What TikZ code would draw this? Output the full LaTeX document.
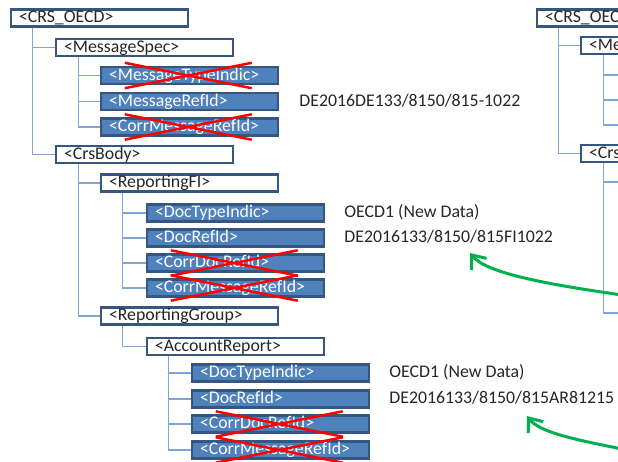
\documentclass[tikz,border=0pt]{standalone}
\usepackage{fontspec}
\setmainfont{Carlito}
\usetikzlibrary{arrows.meta,backgrounds}
\definecolor{bord}{HTML}{34567F}
\definecolor{bfill}{HTML}{4F81BD}
\definecolor{treec}{HTML}{7EA5D6}
\definecolor{grn}{HTML}{00B050}
\definecolor{txt}{HTML}{262626}
\newcommand\xoutbox[1]{%
  \draw[xline] ([xshift=25pt,yshift=3pt]#1.north west) -- ([xshift=152pt,yshift=-3pt]#1.south west);
  \draw[xline] ([xshift=25pt,yshift=-3pt]#1.south west) -- ([xshift=152pt,yshift=3pt]#1.north west);}
\begin{document}
\begin{tikzpicture}[x=1pt,y=-1pt,
  every node/.style={font=\fontsize{17.8pt}{20pt}\selectfont},
  boxbase/.style={draw=bord, line width=2.4pt, minimum width=177pt, minimum height=17pt,
    text width=161pt, inner xsep=8pt, inner ysep=0pt, text height=12.5pt, text depth=3.5pt, align=left},
  wbox/.style={boxbase, fill=white, text=txt},
  bbox/.style={boxbase, fill=bfill, text=white},
  tree/.style={draw=treec, line width=1.3pt},
  xline/.style={draw=red, line width=2.5pt},
  val/.style={anchor=base west, text=txt, inner sep=0pt},
  garrow/.style={draw=grn, line width=3pt, -{Straight Barb[length=12pt,width=19pt]}}]
\useasboundingbox (0,0) rectangle (618,461);
\clip (0,0) rectangle (618,461);

% left tree boxes
\node[wbox] (crs)   at (99.5,18)   {<CRS\_OECD>};
\node[wbox] (mspec) at (144.5,47.5) {<MessageSpec>};
\node[bbox] (mti)   at (189.5,75.5) {<MessageTypeIndic>};
\node[bbox] (mri)   at (189.5,101.5) {<MessageRefId>};
\node[bbox] (cmri)  at (189.5,127)  {<CorrMessageRefId>};
\node[wbox] (body)  at (144.5,154.5) {<CrsBody>};
\node[wbox] (rfi)   at (189.5,183)  {<ReportingFI>};
\node[bbox] (dti)   at (235.5,213)  {<DocTypeIndic>};
\node[bbox] (dri)   at (235.5,238)  {<DocRefId>};
\node[bbox] (cdri)  at (235.5,263)  {<CorrDocRefId>};
\node[bbox] (cmrib) at (235.5,288)  {<CorrMessageRefId>};
\node[wbox] (rg)    at (189.5,316)  {<ReportingGroup>};
\node[wbox] (ar)    at (235.5,346.5) {<AccountReport>};
\node[bbox] (dtic)  at (280.5,373)  {<DocTypeIndic>};
\node[bbox] (dric)  at (280.5,399)  {<DocRefId>};
\node[bbox] (cdric) at (280.5,424)  {<CorrDocRefId>};
\node[bbox] (cmric) at (280.5,450)  {<CorrMessageRefId>};

% right partial tree (cut off at the picture's edge, as in the reference)
\node[wbox] (crsR)  at (625.5,18)   {<CRS\_OECD>};
\node[wbox] (meR)   at (669.5,45.5) {<MessageSpec>};
\node[wbox] (bodyR) at (669.5,153.5) {<CrsBody>};
\coordinate (r1) at (622,75);
\coordinate (r2) at (622,100);
\coordinate (r3) at (622,125);
\coordinate (r4) at (622,182);
\coordinate (r5) at (622,313);

\begin{scope}[on background layer]
\fill[white] (0,0) rectangle (618,461);
\draw[tree] ([xshift=23pt]crs.south west) |- (mspec.west);
\draw[tree] ([xshift=23pt]crs.south west) |- (body.west);
\draw[tree] ([xshift=24pt]mspec.south west) |- (mti.west);
\draw[tree] ([xshift=24pt]mspec.south west) |- (mri.west);
\draw[tree] ([xshift=24pt]mspec.south west) |- (cmri.west);
\draw[tree] ([xshift=24pt]body.south west) |- (rfi.west);
\draw[tree] ([xshift=24pt]body.south west) |- (rg.west);
\draw[tree] ([xshift=23pt]rfi.south west) |- (dti.west);
\draw[tree] ([xshift=23pt]rfi.south west) |- (dri.west);
\draw[tree] ([xshift=23pt]rfi.south west) |- (cdri.west);
\draw[tree] ([xshift=23pt]rfi.south west) |- (cmrib.west);
\draw[tree] ([xshift=23pt]rg.south west) |- (ar.west);
\draw[tree] ([xshift=23pt]ar.south west) |- (dtic.west);
\draw[tree] ([xshift=23pt]ar.south west) |- (dric.west);
\draw[tree] ([xshift=23pt]ar.south west) |- (cdric.west);
\draw[tree] ([xshift=23pt]ar.south west) |- (cmric.west);
\draw[tree] ([xshift=23pt]crsR.south west) |- (meR.west);
\draw[tree] ([xshift=23pt]crsR.south west) |- (bodyR.west);
\draw[tree] ([xshift=24pt]meR.south west) |- (r1);
\draw[tree] ([xshift=24pt]meR.south west) |- (r2);
\draw[tree] ([xshift=24pt]meR.south west) |- (r3);
\draw[tree] ([xshift=24pt]bodyR.south west) |- (r4);
\draw[tree] ([xshift=24pt]bodyR.south west) |- (r5);
\end{scope}

% values
\node[val] (v1) at ([xshift=20pt,yshift=-4.5pt]mri.east) {DE2016DE133/8150/815-1022};
\node[val] (v2) at ([xshift=19pt,yshift=-4.5pt]dti.east) {OECD1 (New Data)};
\node[val] (v3) at ([xshift=19pt,yshift=-4.5pt]dri.east) {DE2016133/8150/815FI1022};
\node[val] (v4) at ([xshift=19pt,yshift=-4.5pt]dtic.east) {OECD1 (New Data)};
\node[val] (v5) at ([xshift=19pt,yshift=-4.5pt]dric.east) {DE2016133/8150/815AR81215};

% crossed-out elements
\xoutbox{mti}
\xoutbox{cmri}
\xoutbox{cdri}
\xoutbox{cmrib}
\xoutbox{cdric}
\xoutbox{cmric}

% green arrows
\coordinate (g1s) at (622,295);
\coordinate (g1e) at (470,253);
\coordinate (g2s) at (622,449);
\coordinate (g2e) at (527,416);
\draw[garrow] (g1s) .. controls (545,284) and (486,273) .. (g1e);
\draw[garrow] (g2s) .. controls (578,440) and (540,433) .. (g2e);
\end{tikzpicture}
\end{document}
